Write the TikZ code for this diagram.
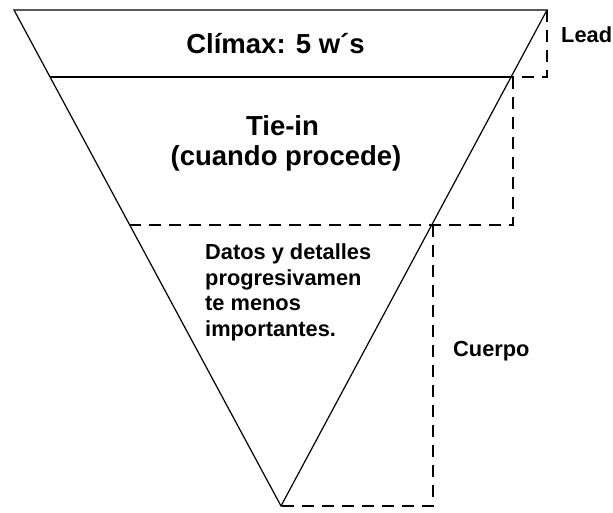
\documentclass[tikz,border=0pt]{standalone}
\usepackage{fontspec}
\setmainfont{Liberation Sans}
\begin{document}
\begin{tikzpicture}[x=1pt,y=-1pt,
  edge/.style={line width=1.2pt,black,line join=miter},
  guide/.style={line width=1.6pt,black,dash pattern=on 12pt off 8pt},
  bigtxt/.style={inner sep=0pt,font=\bfseries\fontsize{27.5}{31}\selectfont,anchor=base},
  smalltxt/.style={inner sep=0pt,font=\bfseries\fontsize{21.8}{25.5}\selectfont}]
\useasboundingbox (0,0) rectangle (613,512);
% corners of the inverted triangle
\coordinate (tl) at (14,10);
\coordinate (tr) at (547,10);
\coordinate (tip) at (281,506);
% level lines
\coordinate (l1) at (50,77);
\coordinate (r1) at (513,77);
\coordinate (l2) at (130,225);
\coordinate (r2) at (433,225);
% bracket corners
\coordinate (leadc) at (547,77);
\coordinate (tiec) at (513,225);
\coordinate (cuerpoc) at (433,506);
% triangle and solid line
\draw[edge] (tip) -- (tl) -- (tr) -- cycle;
\draw[edge] (l1) -- (r1);
% dashed brackets
\draw[guide] (tr) -- (leadc) -- (r1);
\draw[guide] (r1) -- (tiec) -- (l2);
\draw[guide] (r2) -- (cuerpoc) -- (tip);
% texts
\node[bigtxt] (climax) at (275.5,53) {Clímax: 5 w´s};
\node[bigtxt] (tiein) at (282.5,135) {Tie-in};
\node[bigtxt] (cuando) at (286,165) {(cuando procede)};
\node[smalltxt,anchor=north west,align=left] (datos) at (205,243.5)
  {Datos y detalles\\progresivamen\\te menos\\importantes.};
\node[smalltxt,anchor=base west] (lead) at (561,42) {Lead};
\node[smalltxt,anchor=base west] (cuerpo) at (453,356) {Cuerpo};
\end{tikzpicture}
\end{document}
